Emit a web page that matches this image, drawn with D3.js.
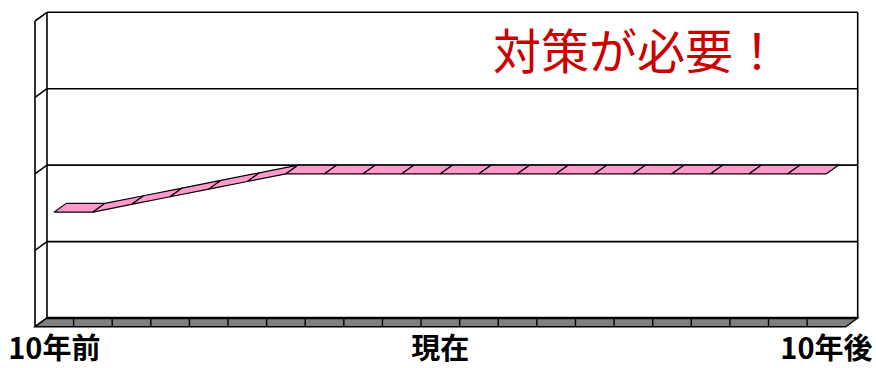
<!DOCTYPE html>
<html>
<head>
<meta charset="utf-8">
<script src="https://cdn.jsdelivr.net/npm/d3@7"></script>
<style>
  html, body { margin: 0; padding: 0; background: #fff; }
  svg { display: block; }
</style>
</head>
<body>
<svg id="chart" width="876" height="368"></svg>
<script>
// Years relative to now, one category each
const years = [-10, -9, -8, -7, -6, -5, -4, -3, -2, -1, 0, 1, 2, 3, 4, 5, 6, 7, 8, 9, 10];
// Level for each year
const levels = [1.5, 1.5, 1.6, 1.7, 1.8, 1.9, 2.0, 2.0, 2.0, 2.0, 2.0, 2.0, 2.0, 2.0, 2.0, 2.0, 2.0, 2.0, 2.0, 2.0, 2.0];
// Labelled years on the category axis
const tickYears = [-10, 0, 10];
const tickLabels = ["10年前", "現在", "10年後"];
// Value gridlines
const gridValues = [0, 1, 2, 3, 4];
const headline = "対策が必要！";

const svg = d3.select("#chart");

// Front plane of the 3D box; the back plane is shifted by the depth vector
const front = { left: 35, right: 845.7, top: 21, bottom: 326.7 };
const depth = { dx: 12, dy: -8.7 };

const x = d3.scaleBand().domain(years).range([front.left, front.right]).paddingInner(0).paddingOuter(0);
const y = d3.scaleLinear().domain([0, 4]).range([front.bottom, front.top]);

const fx = d => x(d) + x.bandwidth() / 2;
const back = ([px, py]) => [px + depth.dx, py + depth.dy];

const line = d3.line();

const ink = "#000";

// Back wall gridlines
const gBack = svg.append("g");
gridValues.forEach(v => {
  const p0 = back([front.left, y(v)]);
  const p1 = back([front.right, y(v)]);
  gBack.append("path").attr("d", line([p0, p1]))
    .attr("stroke", ink).attr("stroke-width", 1.6).attr("fill", "none");
});
// Right edge of back wall
gBack.append("path")
  .attr("d", line([back([front.right, y(4)]), back([front.right, y(0)])]))
  .attr("stroke", ink).attr("stroke-width", 1.6).attr("fill", "none");

// Left side wall
const gSide = svg.append("g");
gSide.append("path")
  .attr("d", line([[front.left, y(4)], [front.left, y(0)]]))
  .attr("stroke", ink).attr("stroke-width", 1.6).attr("fill", "none");
gSide.append("path")
  .attr("d", line([back([front.left, y(4)]), back([front.left, y(0)])]))
  .attr("stroke", ink).attr("stroke-width", 1.6).attr("fill", "none");
gridValues.forEach(v => {
  gSide.append("path")
    .attr("d", line([[front.left, y(v)], back([front.left, y(v)])]))
    .attr("stroke", ink).attr("stroke-width", 1.6).attr("fill", "none");
});

// Floor
const gFloor = svg.append("g");
gFloor.append("path")
  .attr("d", line([[front.left, y(0)], [front.right, y(0)], back([front.right, y(0)]), back([front.left, y(0)])]) + "Z")
  .attr("fill", "#808080").attr("stroke", ink).attr("stroke-width", 1.4);
gFloor.append("path")
  .attr("d", line([back([front.left, y(0)]), back([front.right, y(0)])]))
  .attr("stroke", ink).attr("stroke-width", 2.4).attr("fill", "none");
years.slice(1).forEach(d => {
  gFloor.append("path")
    .attr("d", line([[x(d), y(0) + depth.dy], [x(d), y(0)]]))
    .attr("stroke", ink).attr("stroke-width", 1.4).attr("fill", "none");
});

// Ribbon: one parallelogram per segment between adjacent years
const pts = years.map((d, i) => [fx(d), y(levels[i])]);
const gRibbon = svg.append("g");
d3.pairs(pts).forEach(([a, b]) => {
  gRibbon.append("path")
    .attr("d", line([a, b, back(b), back(a)]) + "Z")
    .attr("fill", "#FF99CC").attr("stroke", ink).attr("stroke-width", 1.2)
    .attr("stroke-linejoin", "round");
});

// Category labels
const xAxis = d3.axisBottom(x)
  .tickValues(tickYears)
  .tickSize(0)
  .tickPadding(0)
  .tickFormat(d => tickLabels[tickYears.indexOf(d)]);
const gAxis = svg.append("g")
  .attr("transform", `translate(0,${front.bottom})`)
  .call(xAxis);
gAxis.select(".domain").remove();
gAxis.selectAll("text")
  .attr("y", 32)
  .attr("dy", null)
  .attr("fill", ink)
  .style("font-family", "'Noto Sans CJK JP', sans-serif")
  .style("font-weight", "bold")
  .style("font-size", "29px");

// Headline
svg.append("text")
  .attr("x", 637)
  .attr("y", 69)
  .attr("text-anchor", "middle")
  .attr("fill", "#CC0000")
  .style("font-family", "'Noto Sans CJK JP', sans-serif")
  .style("font-size", "48px")
  .text(headline);
</script>
</body>
</html>
